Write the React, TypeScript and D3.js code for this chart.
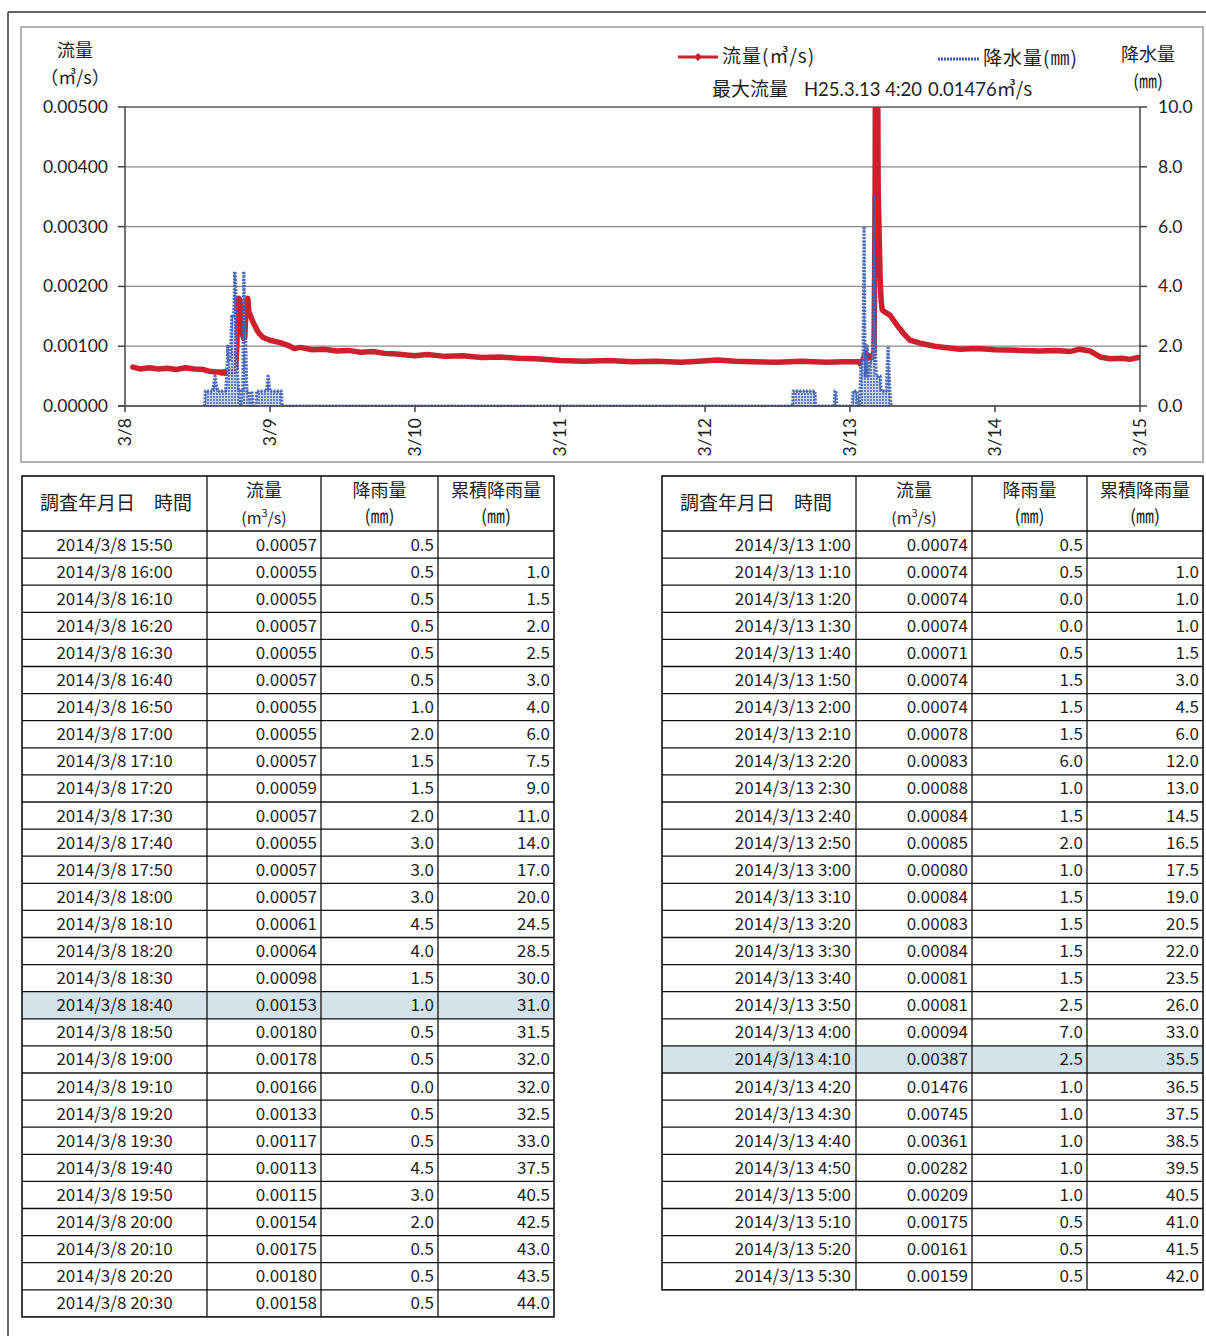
import React from "react";
import * as d3 from "d3";

// ---------- data ----------
const dayLabels = ["3/8", "3/9", "3/10", "3/11", "3/12", "3/13", "3/14", "3/15"];
const flowTicks = [0, 0.001, 0.002, 0.003, 0.004, 0.005];
const rainTicks = [0, 2, 4, 6, 8, 10];

// left table (event 1)
const leftTimes = [
  "2014/3/8 15:50", "2014/3/8 16:00", "2014/3/8 16:10", "2014/3/8 16:20", "2014/3/8 16:30",
  "2014/3/8 16:40", "2014/3/8 16:50", "2014/3/8 17:00", "2014/3/8 17:10", "2014/3/8 17:20",
  "2014/3/8 17:30", "2014/3/8 17:40", "2014/3/8 17:50", "2014/3/8 18:00", "2014/3/8 18:10",
  "2014/3/8 18:20", "2014/3/8 18:30", "2014/3/8 18:40", "2014/3/8 18:50", "2014/3/8 19:00",
  "2014/3/8 19:10", "2014/3/8 19:20", "2014/3/8 19:30", "2014/3/8 19:40", "2014/3/8 19:50",
  "2014/3/8 20:00", "2014/3/8 20:10", "2014/3/8 20:20", "2014/3/8 20:30",
];
const leftFlow = [
  0.00057, 0.00055, 0.00055, 0.00057, 0.00055, 0.00057, 0.00055, 0.00055, 0.00057, 0.00059,
  0.00057, 0.00055, 0.00057, 0.00057, 0.00061, 0.00064, 0.00098, 0.00153, 0.0018, 0.00178,
  0.00166, 0.00133, 0.00117, 0.00113, 0.00115, 0.00154, 0.00175, 0.0018, 0.00158,
];
const leftRain = [
  0.5, 0.5, 0.5, 0.5, 0.5, 0.5, 1.0, 2.0, 1.5, 1.5, 2.0, 3.0, 3.0, 3.0, 4.5, 4.0, 1.5, 1.0, 0.5,
  0.5, 0.0, 0.5, 0.5, 4.5, 3.0, 2.0, 0.5, 0.5, 0.5,
];
const leftCum = [
  null, 1.0, 1.5, 2.0, 2.5, 3.0, 4.0, 6.0, 7.5, 9.0, 11.0, 14.0, 17.0, 20.0, 24.5, 28.5, 30.0,
  31.0, 31.5, 32.0, 32.0, 32.5, 33.0, 37.5, 40.5, 42.5, 43.0, 43.5, 44.0,
];
const leftHighlight = 17;

// right table (event 2)
const rightTimes = [
  "2014/3/13 1:00", "2014/3/13 1:10", "2014/3/13 1:20", "2014/3/13 1:30", "2014/3/13 1:40",
  "2014/3/13 1:50", "2014/3/13 2:00", "2014/3/13 2:10", "2014/3/13 2:20", "2014/3/13 2:30",
  "2014/3/13 2:40", "2014/3/13 2:50", "2014/3/13 3:00", "2014/3/13 3:10", "2014/3/13 3:20",
  "2014/3/13 3:30", "2014/3/13 3:40", "2014/3/13 3:50", "2014/3/13 4:00", "2014/3/13 4:10",
  "2014/3/13 4:20", "2014/3/13 4:30", "2014/3/13 4:40", "2014/3/13 4:50", "2014/3/13 5:00",
  "2014/3/13 5:10", "2014/3/13 5:20", "2014/3/13 5:30",
];
const rightFlow = [
  0.00074, 0.00074, 0.00074, 0.00074, 0.00071, 0.00074, 0.00074, 0.00078, 0.00083, 0.00088,
  0.00084, 0.00085, 0.0008, 0.00084, 0.00083, 0.00084, 0.00081, 0.00081, 0.00094, 0.00387,
  0.01476, 0.00745, 0.00361, 0.00282, 0.00209, 0.00175, 0.00161, 0.00159,
];
const rightRain = [
  0.5, 0.5, 0.0, 0.0, 0.5, 1.5, 1.5, 1.5, 6.0, 1.0, 1.5, 2.0, 1.0, 1.5, 1.5, 1.5, 1.5, 2.5, 7.0,
  2.5, 1.0, 1.0, 1.0, 1.0, 1.0, 0.5, 0.5, 0.5,
];
const rightCum = [
  null, 1.0, 1.0, 1.0, 1.5, 3.0, 4.5, 6.0, 12.0, 13.0, 14.5, 16.5, 17.5, 19.0, 20.5, 22.0, 23.5,
  26.0, 33.0, 35.5, 36.5, 37.5, 38.5, 39.5, 40.5, 41.0, 41.5, 42.0,
];
const rightHighlight = 19;

// chart-only flow readings outside the tables (hours from 3/8 0:00)
const flowExtraHours = [
  1.3, 2.5, 4, 5.5, 7, 8.5, 10, 11.5, 13, 14, 15,
  21.2, 22.0, 22.8, 24, 25.7, 27.3, 28, 29, 31, 33, 35, 37, 39, 41, 43, 45, 47, 48, 50, 53, 56,
  59, 62, 65, 68, 71, 72, 76, 80, 84, 88, 92, 95, 98, 101, 104, 108, 112, 116, 119,
  126.6, 127.8, 128.8, 129.9, 131.6, 134, 138.2, 141, 144, 148, 151.4, 154, 156.4, 158, 159.7,
  161.4, 163, 165, 166.3, 167.7,
];
const flowExtraValues = [
  0.00065, 0.00062, 0.00064, 0.00062, 0.00063, 0.00061, 0.00064, 0.00062, 0.00061, 0.00058, 0.00057,
  0.0014, 0.00124, 0.00115, 0.0011, 0.00106, 0.001, 0.00096, 0.00098, 0.00094, 0.00095, 0.00092,
  0.00093, 0.0009, 0.00091, 0.00088, 0.00087, 0.00085, 0.00084, 0.00086, 0.00083, 0.00084,
  0.00081, 0.00082, 0.0008, 0.00079, 0.00077, 0.00076, 0.00075, 0.00076, 0.00074, 0.00075,
  0.00073, 0.00075, 0.00077, 0.00075, 0.00074, 0.00073, 0.00075, 0.00073, 0.00074,
  0.00152, 0.00135, 0.00122, 0.0011, 0.00105, 0.001, 0.00095, 0.00096, 0.00094, 0.00093, 0.00092,
  0.00093, 0.00091, 0.00095, 0.00092, 0.00082, 0.00079, 0.0008, 0.00078, 0.00081,
];

// chart-only rain readings outside the tables (hours from 3/8 0:00)
const rainExtraHours = [
  13.2, 13.3, 14.5, 14.9, 15.3,
  20.7, 21.0, 21.2, 21.7, 21.8, 23.4, 23.7, 24.0, 25.9, 26.0,
  110.5, 110.6, 114.2, 114.3, 117.4, 117.5, 117.7, 117.8,
  120.4, 120.5, 126.0, 126.3, 126.6, 126.8,
];
const rainExtraValues = [
  0, 0.5, 0.5, 1.0, 0.5,
  0, 0.5, 0, 0, 0.5, 0.5, 1.0, 0.5, 0.5, 0,
  0, 0.5, 0.5, 0, 0, 0.5, 0.5, 0,
  0, 0.5, 0.5, 2.0, 0.5, 0,
];

// ---------- helpers ----------
const toHour = (s: string) => {
  const [date, time] = s.split(" ");
  const day = +date.split("/")[2];
  const [h, m] = time.split(":").map(Number);
  return (day - 8) * 24 + h + m / 60;
};

type Pt = { t: number; v: number };
const flowSeries: Pt[] = [
  ...flowExtraHours.map((t, i) => ({ t, v: flowExtraValues[i] })),
  ...leftTimes.map((s, i) => ({ t: toHour(s), v: leftFlow[i] })),
  ...rightTimes.map((s, i) => ({ t: toHour(s), v: rightFlow[i] })),
].sort((a, b) => a.t - b.t);

const rainSeries: Pt[] = [
  ...rainExtraHours.map((t, i) => ({ t, v: rainExtraValues[i] })),
  ...leftTimes.map((s, i) => ({ t: toHour(s), v: leftRain[i] })),
  ...rightTimes.map((s, i) => ({ t: toHour(s), v: rightRain[i] })),
].sort((a, b) => a.t - b.t);

const JP = "'Noto Sans CJK JP', 'Noto Sans', sans-serif";
const LAT = "Lato, 'Open Sans', sans-serif";

const x = d3.scaleLinear().domain([0, 168]).range([125, 1140]);
const yF = d3.scaleLinear().domain([0, 0.005]).range([406, 107]);
const yR = d3.scaleLinear().domain([0, 10]).range([406, 107]);

function Table(props: {
  cols: number[];
  times: string[];
  flow: number[];
  rain: number[];
  cum: (number | null)[];
  highlight: number;
  firstAlign: "middle" | "end";
}) {
  const { cols, times, flow, rain, cum, highlight, firstAlign } = props;
  const top = 476;
  const headH = 55;
  const rowH = 27.1;
  const left = cols[0];
  const right = cols[cols.length - 1];
  const bottom = top + headH + rowH * times.length;
  const pad = 4;
  const tc = "#1e1e1e";
  return (
    <g fontFamily={JP} fill={tc}>
      <rect
        x={left}
        y={top + headH + rowH * highlight}
        width={right - left}
        height={rowH}
        fill="#d4e3ea"
      />
      <text x={left + 18} y={top + 34} fontSize={19}>
        調査年月日　時間
      </text>
      <text x={(cols[1] + cols[2]) / 2} y={top + 21} fontSize={18} textAnchor="middle">
        流量
      </text>
      <text x={(cols[1] + cols[2]) / 2} y={top + 48} fontSize={16} textAnchor="middle">
        (m<tspan fontSize={11} dy={-7}>3</tspan>
        <tspan dy={7}>/s)</tspan>
      </text>
      <text x={(cols[2] + cols[3]) / 2} y={top + 21} fontSize={18} textAnchor="middle">
        降雨量
      </text>
      <text x={(cols[2] + cols[3]) / 2} y={top + 47} fontSize={18} textAnchor="middle">
        (㎜)
      </text>
      <text x={(cols[3] + cols[4]) / 2} y={top + 21} fontSize={18} textAnchor="middle">
        累積降雨量
      </text>
      <text x={(cols[3] + cols[4]) / 2} y={top + 47} fontSize={18} textAnchor="middle">
        (㎜)
      </text>
      {times.map((t, i) => {
        const yb = top + headH + rowH * i + rowH / 2 + 6;
        return (
          <g key={t} fontSize={17}>
            <text
              x={firstAlign === "middle" ? (cols[0] + cols[1]) / 2 : cols[1] - pad - 1}
              y={yb}
              textAnchor={firstAlign}
            >
              {t}
            </text>
            <text x={cols[2] - pad} y={yb} textAnchor="end">
              {flow[i].toFixed(5)}
            </text>
            <text x={cols[3] - pad} y={yb} textAnchor="end">
              {rain[i].toFixed(1)}
            </text>
            <text x={cols[4] - pad} y={yb} textAnchor="end">
              {cum[i] === null ? "" : (cum[i] as number).toFixed(1)}
            </text>
          </g>
        );
      })}
      <g stroke="#111" strokeWidth={1.3} fill="none">
        <rect x={left} y={top} width={right - left} height={bottom - top} strokeWidth={1.6} />
        {cols.slice(1, -1).map((c) => (
          <line key={c} x1={c} x2={c} y1={top} y2={bottom} />
        ))}
        {times.map((_, i) => (
          <line
            key={i}
            x1={left}
            x2={right}
            y1={top + headH + rowH * i}
            y2={top + headH + rowH * i}
          />
        ))}
      </g>
    </g>
  );
}

export default function App() {
  const flowLine = d3
    .line<Pt>()
    .x((d) => x(d.t))
    .y((d) => yF(d.v));
  const rainArea = d3
    .area<Pt>()
    .x((d) => x(d.t))
    .y0(yR(0))
    .y1((d) => yR(d.v));
  const rainLine = d3
    .line<Pt>()
    .defined(
      (d, i, arr) =>
        d.v > 0 || (arr[i - 1] && arr[i - 1].v > 0) || (arr[i + 1] && arr[i + 1].v > 0)
    )
    .x((d) => x(d.t))
    .y((d) => yR(d.v));

  return (
    <svg
      width={1206}
      height={1336}
      style={{ position: "absolute", left: 0, top: 0, background: "#fff" }}
    >
      <defs>
        <pattern id="dots" width={3} height={3} patternUnits="userSpaceOnUse">
          <rect width={3} height={3} fill="#c3d0ee" />
          <rect width={2} height={2} fill="#4666b8" />
        </pattern>
        <clipPath id="plotClip">
          <rect x={125} y={107} width={1015} height={300} />
        </clipPath>
      </defs>

      {/* page frame lines */}
      <line x1={8} x2={1206} y1={12} y2={12} stroke="#333" strokeWidth={1.5} />
      <line x1={8} x2={8} y1={12} y2={1336} stroke="#333" strokeWidth={1.5} />

      {/* chart box */}
      <rect x={21} y={27} width={1182} height={435} fill="none" stroke="#999" strokeWidth={1.5} />

      {/* gridlines */}
      <g stroke="#8a8a8a" strokeWidth={1.2}>
        {flowTicks.map((t) => (
          <line key={t} x1={125} x2={1140} y1={yF(t)} y2={yF(t)} />
        ))}
      </g>
      <line x1={125} x2={1140} y1={yF(0.005)} y2={yF(0.005)} stroke="#444" strokeWidth={1.2} />

      {/* flow */}
      <g clipPath="url(#plotClip)">
        <path
          d={flowLine(flowSeries) || ""}
          fill="none"
          stroke="#d01f2c"
          strokeWidth={5.5}
          strokeLinejoin="round"
          strokeLinecap="round"
        />
      </g>

      {/* rain */}
      <g clipPath="url(#plotClip)">
        <path d={rainArea(rainSeries) || ""} fill="url(#dots)" opacity={0.85} />
        <path
          d={rainLine(rainSeries) || ""}
          fill="none"
          stroke="#3d5db2"
          strokeWidth={3.2}
          strokeDasharray="2 1.3"
          strokeLinejoin="round"
          opacity={0.9}
        />
      </g>

      {/* axes */}
      <g stroke="#444" strokeWidth={1.5}>
        <line x1={125} x2={125} y1={107} y2={406} />
        <line x1={1140} x2={1140} y1={107} y2={406} />
        <line x1={118} x2={1140} y1={406} y2={406} />
        {flowTicks.map((t) => (
          <line key={"l" + t} x1={118} x2={125} y1={yF(t)} y2={yF(t)} />
        ))}
        {rainTicks.map((t) => (
          <line key={"r" + t} x1={1140} x2={1147} y1={yR(t)} y2={yR(t)} />
        ))}
        {dayLabels.map((_, i) => (
          <line key={"d" + i} x1={x(i * 24)} x2={x(i * 24)} y1={406} y2={412} />
        ))}
      </g>

      {/* tick labels */}
      <g fontFamily={LAT} fontSize={17.5} fill="#1e1e1e">
        {flowTicks.map((t) => (
          <text key={t} x={108} y={yF(t) + 6} textAnchor="end">
            {t.toFixed(5)}
          </text>
        ))}
        {rainTicks.map((t) => (
          <text key={t} x={1158} y={yR(t) + 6}>
            {t.toFixed(1)}
          </text>
        ))}
        {dayLabels.map((d, i) => (
          <text
            key={d}
            transform={`translate(${x(i * 24) + 6},418) rotate(-90)`}
            textAnchor="end"
          >
            {d}
          </text>
        ))}
      </g>

      {/* axis titles */}
      <g fontFamily={JP} fill="#1e1e1e">
        <text x={75} y={57} fontSize={18} textAnchor="middle">流量</text>
        <text x={75} y={84} fontSize={18} textAnchor="middle">（㎥/s）</text>
        <text x={1148} y={61} fontSize={18} textAnchor="middle">降水量</text>
        <text x={1148} y={88} fontSize={18} textAnchor="middle">(㎜)</text>
      </g>

      {/* legend */}
      <line x1={678} x2={718} y1={57} y2={57} stroke="#d01f2c" strokeWidth={3} />
      <path d="M698,53 L702,57 L698,61 L694,57 Z" fill="#d01f2c" />
      <text x={722} y={63} fontFamily={JP} fontSize={19} letterSpacing={1} fill="#1e1e1e">
        流量(㎥/s)
      </text>
      <line
        x1={938}
        x2={980}
        y1={59}
        y2={59}
        stroke="#3d5db2"
        strokeWidth={3}
        strokeDasharray="2 1"
      />
      <text x={983} y={65} fontFamily={JP} fontSize={19} letterSpacing={1} fill="#1e1e1e">
        降水量(㎜)
      </text>
      <text x={712} y={96} fontSize={19} fill="#1e1e1e" fontFamily={JP}>
        最大流量
        <tspan x={804} fontFamily={LAT} fontSize={18.5}>H25.3.13 4:20</tspan>
        <tspan x={928} fontFamily={LAT} fontSize={18.5}>0.01476</tspan>
        <tspan>㎥/s</tspan>
      </text>

      {/* tables */}
      <Table
        cols={[22, 207, 321, 438, 554]}
        times={leftTimes}
        flow={leftFlow}
        rain={leftRain}
        cum={leftCum}
        highlight={leftHighlight}
        firstAlign="middle"
      />
      <Table
        cols={[662, 856, 972, 1087, 1203]}
        times={rightTimes}
        flow={rightFlow}
        rain={rightRain}
        cum={rightCum}
        highlight={rightHighlight}
        firstAlign="end"
      />
    </svg>
  );
}
